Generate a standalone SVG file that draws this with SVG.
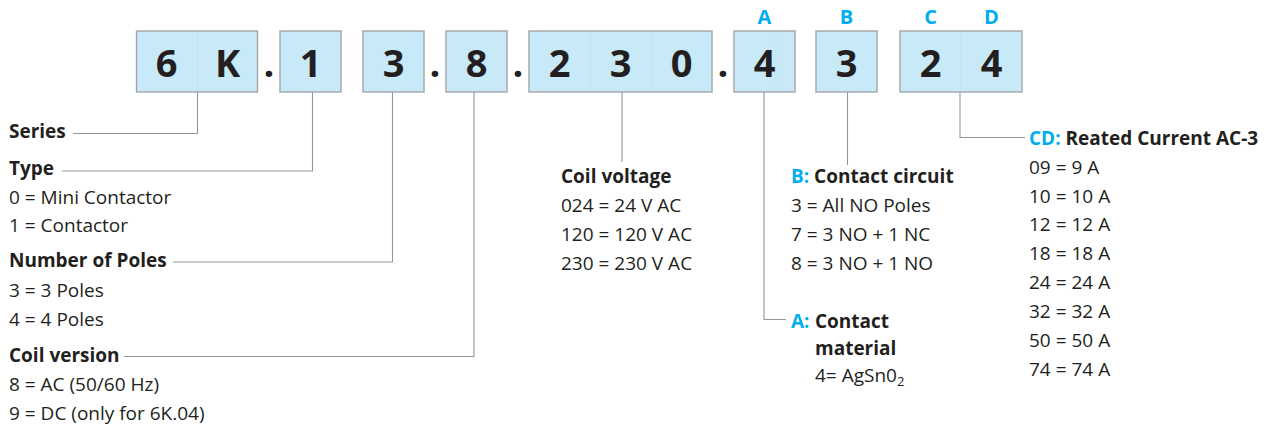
<svg xmlns="http://www.w3.org/2000/svg" width="1268" height="428" viewBox="0 0 1268 428">
<style>
  text { font-family: "Open Sans", "Liberation Sans", sans-serif; fill: #231f20; }
  .box { fill: #c8e9f8; stroke: #a3a5a8; stroke-width: 1.4; }
  .div { stroke: #b6d9ea; stroke-width: 1; opacity: 0.35; }
  .dig { font-size: 38px; font-weight: 700; text-anchor: middle; }
  .let { font-size: 20px; font-weight: 700; text-anchor: middle; fill: #00aeef; }
  .h { font-size: 19px; font-weight: 700; }
  .t { font-size: 19px; }
  .c { fill: #00aeef; }
  .conn { fill: none; stroke: #939598; stroke-width: 1.1; }
</style>
<rect width="1268" height="428" fill="#ffffff"/>

<g id="connectors">
  <path class="conn" d="M197.5 92 V133.5 H73"/>
  <path class="conn" d="M312.5 92 V171 H62"/>
  <path class="conn" d="M392.5 92 V262 H173"/>
  <path class="conn" d="M474 92 V356.5 H124"/>
  <path class="conn" d="M622 92 V162"/>
  <path class="conn" d="M764 92 V319.5 H786"/>
  <path class="conn" d="M847.5 92 V165"/>
  <path class="conn" d="M960 92 V137.5 H1025"/>
</g>

<g id="box-6K">
  <rect class="box" x="136.5" y="31" width="121" height="61"/>
  <line class="div" x1="197.5" y1="32" x2="197.5" y2="91"/>
  <text class="dig" x="166.5" y="77">6</text>
  <text class="dig" x="227.5" y="77">K</text>
</g>
<text class="dig" x="269" y="77">.</text>
<g id="box-type">
  <rect class="box" x="280" y="31" width="61" height="61"/>
  <text class="dig" x="310.5" y="77">1</text>
</g>
<g id="box-poles">
  <rect class="box" x="363" y="31" width="61" height="61"/>
  <text class="dig" x="393.5" y="77">3</text>
</g>
<text class="dig" x="435" y="77">.</text>
<g id="box-coil">
  <rect class="box" x="446" y="31" width="61" height="61"/>
  <text class="dig" x="476.5" y="77">8</text>
</g>
<text class="dig" x="518" y="77">.</text>
<g id="box-voltage">
  <rect class="box" x="529" y="31" width="183" height="61"/>
  <line class="div" x1="590" y1="32" x2="590" y2="91"/>
  <line class="div" x1="651" y1="32" x2="651" y2="91"/>
  <text class="dig" x="559.5" y="77">2</text>
  <text class="dig" x="620.5" y="77">3</text>
  <text class="dig" x="681.5" y="77">0</text>
</g>
<text class="dig" x="723" y="77">.</text>
<g id="box-A">
  <rect class="box" x="734" y="31" width="61" height="61"/>
  <line class="div" x1="776" y1="32" x2="776" y2="91"/>
  <text class="let" x="764.5" y="24">A</text>
  <text class="dig" x="764.5" y="77">4</text>
</g>
<g id="box-B">
  <rect class="box" x="816" y="31" width="61" height="61"/>
  <text class="let" x="846.5" y="24">B</text>
  <text class="dig" x="846.5" y="77">3</text>
</g>
<g id="box-CD">
  <rect class="box" x="900" y="31" width="122" height="61"/>
  <line class="div" x1="961" y1="32" x2="961" y2="91"/>
  <text class="let" x="930.5" y="24">C</text>
  <text class="let" x="991.5" y="24">D</text>
  <text class="dig" x="930.5" y="77">2</text>
  <text class="dig" x="991.5" y="77">4</text>
</g>

<g id="desc-series">
  <text class="h" x="9" y="137.5">Series</text>
</g>
<g id="desc-type">
  <text class="h" x="9" y="175">Type</text>
  <text class="t" x="9" y="203.5">0 = Mini Contactor</text>
  <text class="t" x="9" y="232">1 = Contactor</text>
</g>
<g id="desc-poles">
  <text class="h" x="9" y="267">Number of Poles</text>
  <text class="t" x="9" y="296.5">3 = 3 Poles</text>
  <text class="t" x="9" y="325.5">4 = 4 Poles</text>
</g>
<g id="desc-coil">
  <text class="h" x="9" y="361.5">Coil version</text>
  <text class="t" x="9" y="390.5">8 = AC (50/60 Hz)</text>
  <text class="t" x="9" y="419.5">9 = DC (only for 6K.04)</text>
</g>
<g id="desc-voltage">
  <text class="h" x="561" y="182.5">Coil voltage</text>
  <text class="t" x="561" y="211.5">024 = 24 V AC</text>
  <text class="t" x="561" y="240.5">120 = 120 V AC</text>
  <text class="t" x="561" y="269.5">230 = 230 V AC</text>
</g>
<g id="desc-B">
  <text class="h" x="791" y="182.5"><tspan class="c">B:</tspan> Contact circuit</text>
  <text class="t" x="791" y="211.5">3 = All NO Poles</text>
  <text class="t" x="791" y="240.5">7 = 3 NO + 1 NC</text>
  <text class="t" x="791" y="269.5">8 = 3 NO + 1 NO</text>
</g>
<g id="desc-A">
  <text class="h c" x="791" y="327.5">A:</text>
  <text class="h" x="815" y="327.5">Contact</text>
  <text class="h" x="815" y="355">material</text>
  <text class="t" x="815" y="382">4= AgSn0<tspan font-size="13" dy="4">2</tspan></text>
</g>
<g id="desc-CD">
  <text class="h" x="1029" y="145"><tspan class="c">CD:</tspan> Reated Current AC-3</text>
  <text class="t" x="1029" y="173.5">09 = 9 A</text>
  <text class="t" x="1029" y="202.5">10 = 10 A</text>
  <text class="t" x="1029" y="231">12 = 12 A</text>
  <text class="t" x="1029" y="260">18 = 18 A</text>
  <text class="t" x="1029" y="289">24 = 24 A</text>
  <text class="t" x="1029" y="318">32 = 32 A</text>
  <text class="t" x="1029" y="347">50 = 50 A</text>
  <text class="t" x="1029" y="376">74 = 74 A</text>
</g>
</svg>
